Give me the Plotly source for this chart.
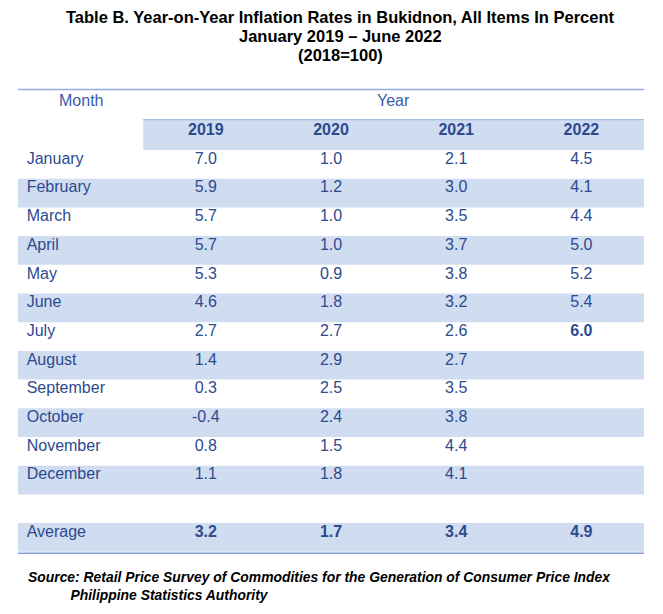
import plotly.graph_objects as go

# ---------------- data ----------------
years = ["2019", "2020", "2021", "2022"]
months = ["January", "February", "March", "April", "May", "June", "July",
          "August", "September", "October", "November", "December"]
v2019 = [7.0, 5.9, 5.7, 5.7, 5.3, 4.6, 2.7, 1.4, 0.3, -0.4, 0.8, 1.1]
v2020 = [1.0, 1.2, 1.0, 1.0, 0.9, 1.8, 2.7, 2.9, 2.5, 2.4, 1.5, 1.8]
v2021 = [2.1, 3.0, 3.5, 3.7, 3.8, 3.2, 2.6, 2.7, 3.5, 3.8, 4.4, 4.1]
v2022 = [4.5, 4.1, 4.4, 5.0, 5.2, 5.4, 6.0]
averages = [3.2, 1.7, 3.4, 4.9]
bold_latest = "July"  # latest 2022 value shown in bold

title_lines = ["Table B. Year-on-Year Inflation Rates in Bukidnon, All Items In Percent",
               "January 2019 \u2013 June 2022",
               "(2018=100)"]
source_lines = ["Source: Retail Price Survey of Commodities for the Generation of Consumer Price Index",
                "Philippine Statistics Authority"]

# ---------------- styles / layout ----------------
W, H = 663, 614
OFF = 8                      # page body margin of the browser
BAND = "#D0DCF0"
TXT = "#2C4A8E"
HEADTXT = "#3A5CAB"
RULE_TOP = "#92AEDF"
RULE_BOT = "#7E9DD8"
FONT = "Liberation Sans, Arial, sans-serif"

x0, x1 = 18, 644             # table left/right (px)
y_head = 120                 # top of year header band (px)
y_first = 150                # top of first month row (px)
row_h = 28.7
colw = (x1 - x0) / 5
text_dy = 0.34               # text cap-middle offset inside a row (row units)


def px(x):
    return (x - OFF) / (W - OFF)


def py(y):
    return 1 - (y - OFF) / (H - OFF)


def fmt(v):
    return f"{v:.1f}"


# rows: 12 months, blank spacer, Average
row_labels = months + ["", "Average"]
n_rows = len(row_labels)
series = [v2019, v2020, v2021, v2022]

# ---------------- band bars ----------------
band_y, band_x, band_base, band_w = [], [], [], []
hdr_units = (y_first - y_head) / row_h
band_y.append(-hdr_units / 2)
band_x.append(4)
band_base.append(1)
band_w.append(hdr_units)
for k in range(n_rows):
    if k % 2 == 1:
        band_y.append(k + 0.5)
        band_x.append(5)
        band_base.append(0)
        band_w.append(1)

fig = go.Figure()
fig.add_trace(go.Bar(orientation="h", y=band_y, x=band_x, base=band_base, width=band_w,
                     marker=dict(color=BAND, line=dict(width=0)), hoverinfo="skip",
                     showlegend=False))

# ---------------- header years ----------------
hdr_mid = (130.5 - y_first) / row_h
fig.add_trace(go.Scatter(x=[c + 1.5 for c in range(len(years))], y=[hdr_mid] * len(years),
                         text=[f"<b>{y}</b>" for y in years], mode="text",
                         textposition="middle center", cliponaxis=False,
                         textfont=dict(family=FONT, size=16, color=TXT),
                         hoverinfo="skip", showlegend=False))

# ---------------- month labels ----------------
fig.add_trace(go.Scatter(x=[8.7 / colw] * n_rows, y=[k + text_dy for k in range(n_rows)],
                         text=row_labels, mode="text", textposition="middle right",
                         cliponaxis=False, textfont=dict(family=FONT, size=16, color=TXT),
                         hoverinfo="skip", showlegend=False))

# ---------------- values ----------------
for c, (s, avg) in enumerate(zip(series, averages)):
    xs, ys, ts = [], [], []
    for i, v in enumerate(s):
        t = fmt(v)
        if s is v2022 and months[i] == bold_latest:
            t = f"<b>{t}</b>"
        xs.append(c + 1.5)
        ys.append(i + text_dy)
        ts.append(t)
    xs.append(c + 1.5)
    ys.append(n_rows - 1 + text_dy)
    ts.append(f"<b>{fmt(avg)}</b>")
    fig.add_trace(go.Scatter(x=xs, y=ys, text=ts, mode="text", textposition="middle center",
                             cliponaxis=False, textfont=dict(family=FONT, size=16, color=TXT),
                             hoverinfo="skip", showlegend=False))

# ---------------- annotations ----------------
annotations = []
for line, yy in zip(title_lines, [17, 36, 55]):
    annotations.append(dict(text=f"<b>{line}</b>", x=px(340), y=py(yy), xref="paper", yref="paper",
                            xanchor="center", yanchor="middle", showarrow=False,
                            font=dict(family=FONT, size=16.5, color="black")))
annotations.append(dict(text="Month", x=px(x0 + colw / 2), y=py(100.4), xref="paper", yref="paper",
                        xanchor="center", yanchor="middle", showarrow=False,
                        font=dict(family=FONT, size=16, color=HEADTXT)))
annotations.append(dict(text="Year", x=px(x0 + 3 * colw), y=py(100.4), xref="paper", yref="paper",
                        xanchor="center", yanchor="middle", showarrow=False,
                        font=dict(family=FONT, size=16, color=HEADTXT)))
indent = "\u00a0" * 11
source_text = f"<b><i>{source_lines[0]}<br>{indent}{source_lines[1]}</i></b>"
annotations.append(dict(text=source_text, x=px(26), y=py(586), xref="paper", yref="paper",
                        xanchor="left", yanchor="middle", align="left", showarrow=False,
                        font=dict(family=FONT, size=13.9, color="black")))

y_bottom = y_first + n_rows * row_h
shapes = [
    dict(type="line", xref="paper", yref="paper", x0=px(x0), x1=px(x1), y0=py(89.5), y1=py(89.5),
         line=dict(color=RULE_TOP, width=1.5)),
    dict(type="line", xref="paper", yref="paper", x0=px(x0 + colw), x1=px(x1),
         y0=py(y_head - 0.3), y1=py(y_head - 0.3), line=dict(color=RULE_TOP, width=1)),
    dict(type="line", xref="paper", yref="paper", x0=px(x0), x1=px(x1),
         y0=py(y_bottom + 1.5), y1=py(y_bottom + 1.5), line=dict(color=RULE_BOT, width=1.5)),
]

fig.update_layout(
    width=W - OFF, height=H - OFF, margin=dict(l=0, r=0, t=0, b=0, pad=0),
    paper_bgcolor="white", plot_bgcolor="white", barmode="overlay", hovermode=False,
    xaxis=dict(visible=False, domain=[0, 1], range=[(OFF - x0) / colw, (W - x0) / colw], fixedrange=True),
    yaxis=dict(visible=False, domain=[0, 1], range=[(H - y_first) / row_h, (OFF - y_first) / row_h],
               fixedrange=True),
    annotations=annotations, shapes=shapes,
)

fig.write_html("out.html", config={"displayModeBar": False})
